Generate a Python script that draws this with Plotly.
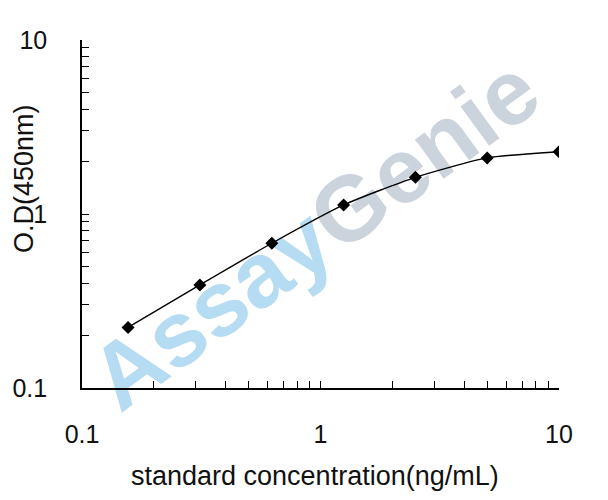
import plotly.graph_objects as go

# Data
concentration = [0.156, 0.312, 0.625, 1.25, 2.5, 5, 10]
od_450 = [0.223, 0.391, 0.679, 1.127, 1.625, 2.10, 2.28]

x_title = "standard concentration(ng/mL)"
y_title = "O.D(450nm)"
x_ticks = [0.1, 1, 10]
y_ticks = [0.1, 1, 10]
tick_text = ["0.1", "1", "10"]

# page has an 8px body margin; figure sized so the plot lands where the reference has it
OFF = 8
W, H = 600, 492
L, R, T, B = 74, 49, 32, 112
PW, PH = W - L - R, H - T - B

def px_x(px):
    return (px - OFF - L) / PW

def px_y(py):
    return (H - B - (py - OFF)) / PH

FONT = "Liberation Sans, Arial, sans-serif"

fig = go.Figure()
fig.add_trace(go.Scatter(
    x=concentration, y=od_450, mode="lines+markers",
    line=dict(color="black", width=1.4, shape="spline", smoothing=0.6),
    marker=dict(symbol="diamond", size=10, color="black"),
    showlegend=False, hoverinfo="skip",
))

axis_common = dict(
    type="log", range=[-1, 1], showgrid=False, zeroline=False, automargin=False,
    showline=True, linecolor="black", linewidth=1.6, mirror=False,
    ticks="inside", ticklen=7, tickwidth=1.3, tickcolor="black",
    tickmode="array", tickvals=x_ticks, ticktext=tick_text,
    tickfont=dict(family=FONT, size=25, color="#111"),
    minor=dict(ticks="inside", ticklen=7, tickwidth=1.3, tickcolor="black", dtick="D1", showgrid=False),
)

fig.update_xaxes(**axis_common, ticklabelstandoff=23)
fig.update_yaxes(**axis_common, ticklabelstandoff=28)
fig.update_yaxes(tickvals=y_ticks)

fig.add_shape(
    type="rect", xref="paper", yref="paper",
    x0=px_x(299), x1=px_x(319), y0=px_y(236), y1=px_y(216),
    line=dict(width=0), fillcolor="rgba(0,0,0,0)", layer="below",
    label=dict(
        text="<b><span style='color:#b5dcf2'>Assay</span><span style='color:#cbd3dc'>Genie</span></b>",
        textangle=-36, textposition="middle center",
        font=dict(family=FONT, size=92, color="#b5dcf2"),
    ),
)

fig.add_annotation(
    text=x_title, xref="paper", yref="paper", x=px_x(315), y=px_y(476),
    xanchor="center", yanchor="middle", showarrow=False,
    font=dict(family=FONT, size=27, color="#111"),
)
fig.add_annotation(
    text=y_title, xref="paper", yref="paper", x=px_x(24), y=px_y(179),
    xanchor="center", yanchor="middle", textangle=-90, showarrow=False,
    font=dict(family=FONT, size=27, color="#111"),
)

fig.update_layout(
    width=W, height=H, margin=dict(l=L, r=R, t=T, b=B, autoexpand=False),
    paper_bgcolor="white", plot_bgcolor="white",
)

fig.write_html("out.html")
